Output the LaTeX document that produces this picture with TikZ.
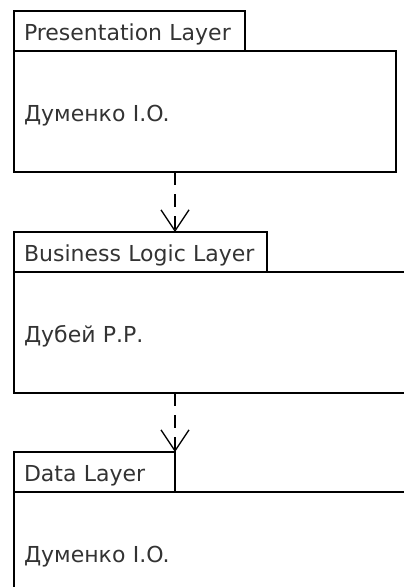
\documentclass[tikz,border=0pt]{standalone}
\usepackage{fontspec}
\setmainfont{DejaVu Sans}
\usetikzlibrary{positioning,arrows.meta}
\tikzset{
  pkgtab/.style={draw, line width=1.3pt, outer sep=0pt, inner xsep=10pt, inner ysep=0pt,
    minimum height=40pt, text height=21pt, text depth=2pt, align=left,
    text=black!80, font=\fontsize{22}{24}\selectfont},
  pkgbody/.style={draw, line width=1.3pt, outer sep=0pt, inner xsep=10pt, inner ysep=0pt,
    minimum height=121pt, text height=22pt, text depth=2pt, align=left,
    text=black!80, font=\fontsize{22}{24}\selectfont},
  dep/.style={line width=1.3pt, dash pattern=on 13pt off 9pt,
    -{Straight Barb[length=21pt,width=28pt,line width=1.3pt]}}
}
\begin{document}
\begin{tikzpicture}[x=1pt,y=1pt]
\clip (0,0) rectangle (404,-587);
% Presentation layer
\node[pkgtab, text width=211pt, anchor=north west] (ptab) at (14,-11) {Presentation Layer};
\node[pkgbody, text width=362pt, below right=0pt and 0pt of ptab.south west] (pbody) {Думенко I.O.};
% Business logic layer
\node[pkgtab, text width=233pt, below right=60pt and 0pt of pbody.south west] (btab) {Business Logic Layer};
\node[pkgbody, text width=380pt, below right=0pt and 0pt of btab.south west] (bbody) {Дубей Р.Р.};
% Data layer
\node[pkgtab, text width=141pt, below right=59pt and 0pt of bbody.south west] (dtab) {Data Layer};
\node[pkgbody, text width=380pt, below right=0pt and 0pt of dtab.south west] (dbody) {Думенко I.O.};
% dependencies
\coordinate (depx) at (175,0);
\draw[dep] (pbody.south -| depx) -- (btab.north -| depx);
\draw[dep] (bbody.south -| depx) -- (dtab.north -| depx);
\end{tikzpicture}
\end{document}
